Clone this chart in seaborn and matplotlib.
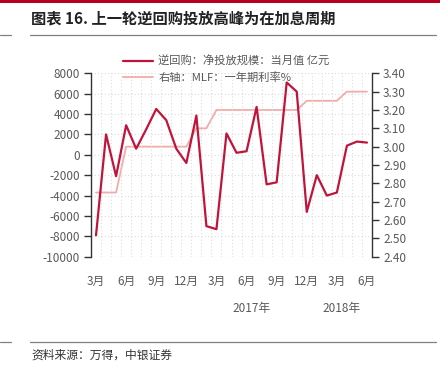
import matplotlib
matplotlib.use("Agg")
import matplotlib.pyplot as plt
import seaborn as sns
import pandas as pd
import numpy as np
from matplotlib.lines import Line2D

sns.set_style("white")
plt.rcParams['font.family'] = ['Noto Sans CJK SC', 'DejaVu Sans']
plt.rcParams['axes.unicode_minus'] = False

# Data: monthly, Mar 2016 .. Jun 2018
months = ["2016-03","2016-04","2016-05","2016-06","2016-07","2016-08","2016-09","2016-10",
          "2016-11","2016-12","2017-01","2017-02","2017-03","2017-04","2017-05","2017-06",
          "2017-07","2017-08","2017-09","2017-10","2017-11","2017-12","2018-01","2018-02",
          "2018-03","2018-04","2018-05","2018-06"]
repo_net = [-7900, 2000, -2100, 2900, 600, 2500, 4500, 3400, 600, -800,
            3850, -7000, -7300, 2100, 200, 350, 4700, -2900, -2700, 7100,
            6200, -5600, -2000, -4000, -3700, 900, 1300, 1200]
mlf_rate = [2.75, 2.75, 2.75, 3.00, 3.00, 3.00, 3.00, 3.00, 3.00, 3.00,
            3.10, 3.10, 3.20, 3.20, 3.20, 3.20, 3.20, 3.20, 3.20, 3.20,
            3.20, 3.25, 3.25, 3.25, 3.25, 3.30, 3.30, 3.30]
tick_labels = ["3月","6月","9月","12月","3月","6月","9月","12月","3月","6月"]
year_labels = ["2017年", "2018年"]
year_centers = [15.5, 24.5]
series_names = ["逆回购：净投放规模：当月值 亿元", "右轴：MLF：一年期利率%"]

df = pd.DataFrame({"idx": np.arange(len(months)), "repo": repo_net, "mlf": mlf_rate})

DARK = "#C0143C"
PINK = "#F2ABAB"
GREY = "#595959"
GRID = "#DCDCDC"

fig = plt.figure(figsize=(4.4, 3.74), dpi=100)
ax = fig.add_axes([91/440, 1-256.7/374, (372-91)/440, (256.7-73.3)/374])
ax2 = ax.twinx()

sns.lineplot(data=df, x="idx", y="mlf", ax=ax2, color=PINK, linewidth=1.3)
sns.lineplot(data=df, x="idx", y="repo", ax=ax, color=DARK, linewidth=1.6)
ax.set_zorder(ax2.get_zorder() + 1)
ax.patch.set_visible(False)

ax.set_xlim(-0.5, len(months) - 0.5)
ax.set_ylim(-10000, 8000)
ax.set_yticks(np.arange(-10000, 8001, 2000))
ax2.set_ylim(2.40, 3.40)
ax2.set_yticks(np.arange(2.40, 3.401, 0.10))
ax2.set_yticklabels([f"{v:.2f}" for v in np.arange(2.40, 3.401, 0.10)])

ax.set_xticks(np.arange(0, len(months), 3))
ax.set_xticklabels(tick_labels)
ax.set_xticks(np.arange(-0.5, len(months), 1), minor=True)

for a in (ax, ax2):
    a.set_xlabel("")
    a.set_ylabel("")
    for s in a.spines.values():
        s.set_visible(False)

ax.spines["left"].set_visible(True)
ax.spines["left"].set_color("#333333")
ax.spines["left"].set_linewidth(1.0)
ax2.spines["right"].set_visible(True)
ax2.spines["right"].set_color("#333333")
ax2.spines["right"].set_linewidth(1.0)

ax.tick_params(axis="y", direction="out", length=5, width=1, color="#333333",
               labelsize=8.5, labelcolor=GREY, pad=3)
ax2.tick_params(axis="y", direction="out", length=5, width=1, color="#333333",
                labelsize=8.5, labelcolor=GREY, pad=3)
ax.tick_params(axis="x", which="both", length=0, labelsize=8.5, labelcolor=GREY, pad=13)

ax.grid(True, axis="y", which="major", linestyle=(0, (1, 2)), color=GRID, linewidth=0.8)
ax.grid(True, axis="x", which="minor", linestyle=(0, (1, 2)), color=GRID, linewidth=0.8)
ax.grid(False, axis="x", which="major")
ax2.grid(False)
ax.axhline(-10000, color=GRID, linestyle=(0, (1, 2)), linewidth=0.8)

for lab, c in zip(year_labels, year_centers):
    ax.text(c, -0.28, lab, transform=ax.get_xaxis_transform(), ha="center", va="center",
            fontsize=8.5, color=GREY)

handles = [Line2D([0], [0], color=DARK, linewidth=1.6),
           Line2D([0], [0], color=PINK, linewidth=1.3)]
leg = fig.legend(handles, series_names, loc="upper left",
                 bbox_to_anchor=(118/440, 1-51/374), frameon=False,
                 fontsize=8.1, labelcolor=GREY, handlelength=2.7,
                 handletextpad=0.5, labelspacing=0.5, borderaxespad=0)

# Header / footer decorations
fig.add_artist(plt.Rectangle((0, 1-3/374), 1, 3/374, transform=fig.transFigure,
                             color="#B5001F", lw=0))
fig.add_artist(Line2D([30/440, 436/440], [1-35/374]*2, transform=fig.transFigure,
                      color="#808080", lw=0.9))
fig.add_artist(Line2D([0, 11/440], [1-35/374]*2, transform=fig.transFigure,
                      color="#808080", lw=0.9))
fig.add_artist(Line2D([30/440, 436/440], [1-342/374]*2, transform=fig.transFigure,
                      color="#808080", lw=0.9))
fig.add_artist(Line2D([0, 11/440], [1-342/374]*2, transform=fig.transFigure,
                      color="#808080", lw=0.9))

fig.text(31/440, 1-18/374, "图表 16. 上一轮逆回购投放高峰为在加息周期", ha="left", va="center",
         fontsize=11, fontweight="bold", color="#222222")
fig.text(31/440, 1-355/374, "资料来源：万得，中银证券", ha="left", va="center",
         fontsize=8.5, style="italic", color="#333333")

fig.savefig("out.png", dpi=100)
